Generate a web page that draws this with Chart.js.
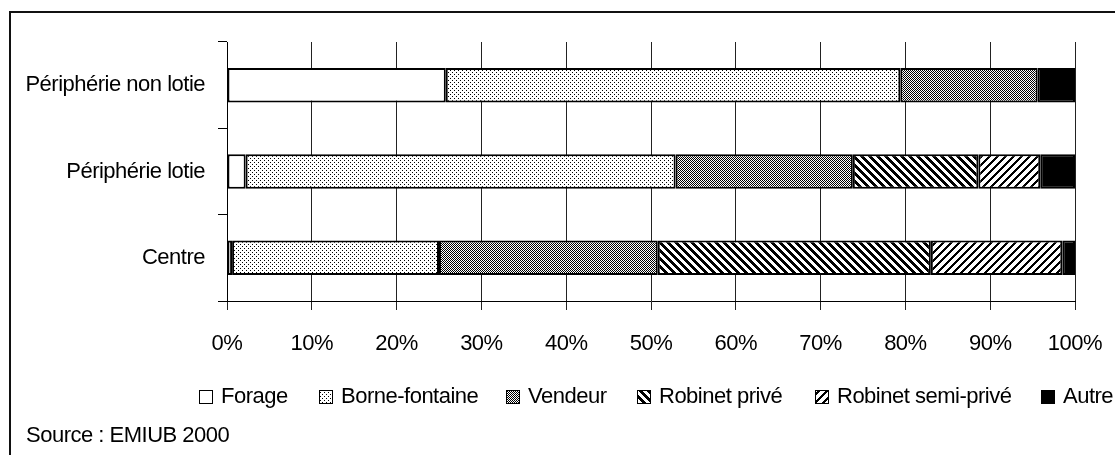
<!DOCTYPE html>
<html>
<head>
<meta charset="utf-8">
<script src="https://cdn.jsdelivr.net/npm/chart.js@4.4.1/dist/chart.umd.min.js"></script>
<style>
  html, body { margin: 0; padding: 0; background: #fff; }
  #wrap { position: relative; width: 1115px; height: 455px; }
</style>
</head>
<body>
<div id="wrap"><canvas id="water-chart" width="1115" height="455"></canvas></div>
<script>
// Sources d'approvisionnement en eau par zone (%)
const zones = ['Périphérie non lotie', 'Périphérie lotie', 'Centre'];
const forage = [25.8, 2.2, 0.6];
const borneFontaine = [53.6, 50.7, 24.4];
const vendeur = [16.2, 20.9, 25.8];
const robinetPrive = [0, 14.8, 32.2];
const robinetSemiPrive = [0, 7.3, 15.5];
const autre = [4.4, 4.1, 1.5];
const xTicks = ['0%', '10%', '20%', '30%', '40%', '50%', '60%', '70%', '80%', '90%', '100%'];
const sourceNote = 'Source : EMIUB 2000';

const FONT = "'Liberation Sans', Arial, sans-serif";
const canvas = document.getElementById('water-chart');
const ctx = canvas.getContext('2d');

// small bitmap tiles for the black & white fills
function makePattern(size, draw) {
    const tile = document.createElement('canvas');
    tile.width = size;
    tile.height = size;
    const t = tile.getContext('2d');
    t.fillStyle = '#fff';
    t.fillRect(0, 0, size, size);
    t.fillStyle = '#000';
    draw(t, size);
    return ctx.createPattern(tile, 'repeat');
}

const dots = makePattern(4, (t) => {
    t.fillRect(0, 0, 1, 1);
    t.fillRect(2, 2, 1, 1);
});
const checker = makePattern(2, (t) => {
    t.fillRect(0, 0, 1, 1);
    t.fillRect(1, 1, 1, 1);
});
// wide "\" stripes
const backStripes = makePattern(8, (t, s) => {
    for (let y = 0; y < s; y++) {
        for (let k = 0; k < 4; k++) t.fillRect((y + k) % s, y, 1, 1);
    }
});
// thinner "/" stripes
const fwdStripes = makePattern(8, (t, s) => {
    for (let y = 0; y < s; y++) {
        for (let k = 0; k < 3; k++) t.fillRect((s - y + k) % s, y, 1, 1);
    }
});

const series = [
    { label: 'Forage', data: forage, fill: '#fff' },
    { label: 'Borne-fontaine', data: borneFontaine, fill: dots },
    { label: 'Vendeur', data: vendeur, fill: checker },
    { label: 'Robinet privé', data: robinetPrive, fill: backStripes },
    { label: 'Robinet semi-privé', data: robinetSemiPrive, fill: fwdStripes },
    { label: 'Autre', data: autre, fill: '#000' }
];

// legend box x positions along the bottom row
const legendX = [199, 319, 506, 637, 815, 1041];

const framePlugin = {
    id: 'frame',
    beforeDraw(chart) {
        const c = chart.ctx;
        // tighter text, like the original office export
        c.letterSpacing = '-0.5px';
        c.save();
        c.fillStyle = '#fff';
        c.fillRect(0, 0, chart.width, chart.height);
        c.fillStyle = '#111';
        c.fillRect(9, 11, chart.width - 9, 2);
        c.fillRect(9, 11, 2, chart.height - 11);
        c.restore();
    },
    afterDraw(chart) {
        const c = chart.ctx;
        c.save();
        c.font = '22px ' + FONT;
        c.textBaseline = 'middle';
        chart.data.datasets.forEach((ds, i) => {
            const x = legendX[i];
            c.fillStyle = ds.backgroundColor;
            c.fillRect(x, 390, 14, 14);
            c.strokeStyle = '#000';
            c.lineWidth = 1;
            c.strokeRect(x + 0.5, 390.5, 13, 13);
            c.fillStyle = '#000';
            c.fillText(ds.label, x + 22, 397);
        });
        c.fillText(sourceNote, 26, 436);
        c.restore();
    }
};

new Chart(ctx, {
    type: 'bar',
    data: {
        labels: zones,
        datasets: series.map(s => ({
            label: s.label,
            data: s.data,
            backgroundColor: s.fill,
            borderColor: '#000',
            borderWidth: 2,
            borderSkipped: false,
            barPercentage: 0.4,
            categoryPercentage: 1
        }))
    },
    options: {
        indexAxis: 'y',
        responsive: false,
        animation: false,
        layout: { padding: { top: 42, right: 40, left: 0, bottom: 0 } },
        plugins: {
            legend: { display: false },
            tooltip: { enabled: false }
        },
        scales: {
            x: {
                stacked: true,
                min: 0,
                max: 100,
                afterFit: (scale) => {
                    scale.height = 154;
                    scale.paddingLeft = 0;
                    scale.paddingRight = 0;
                },
                afterBuildTicks: (scale) => {
                    scale.ticks = xTicks.map((_, i) => ({ value: i * 10 }));
                },
                ticks: {
                    callback: (v, i) => xTicks[i],
                    color: '#000',
                    font: { family: FONT, size: 22 },
                    padding: 21,
                    maxRotation: 0,
                    autoSkip: false
                },
                grid: { color: '#222', lineWidth: 1, tickLength: 9 },
                border: { color: '#000', width: 1 }
            },
            y: {
                stacked: true,
                afterFit: (scale) => {
                    scale.width = 227;
                    scale.paddingTop = 0;
                    scale.paddingBottom = 0;
                },
                ticks: {
                    color: '#000',
                    font: { family: FONT, size: 22 },
                    padding: 13
                },
                grid: { drawOnChartArea: false, color: '#000', tickLength: 9, offset: true },
                border: { color: '#000', width: 1 }
            }
        }
    },
    plugins: [framePlugin]
});
</script>
</body>
</html>
